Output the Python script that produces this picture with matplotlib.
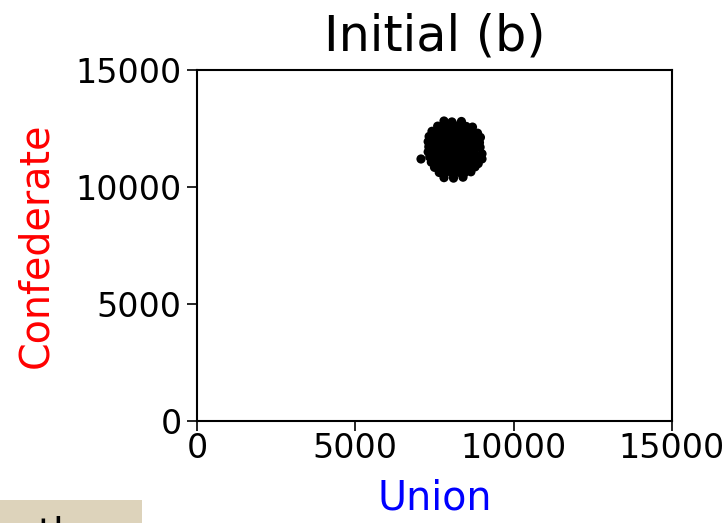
import matplotlib
matplotlib.use("Agg")
import matplotlib.pyplot as plt
from matplotlib.patches import Rectangle

#%% Dados (linha por linha da nuvem)

union = [7800, 8050, 8350,
         7600, 7780, 7960, 8140, 8320, 8500, 8700,
         7420, 7600, 7780, 7960, 8140, 8320, 8500, 8680, 8860,
         7330, 7500, 7680, 7860, 8040, 8220, 8400, 8580, 8760, 8950,
         7300, 7480, 7660, 7840, 8020, 8200, 8380, 8560, 8740, 8920,
         7320, 7500, 7680, 7860, 8040, 8220, 8400, 8580, 8760, 8940,
         7300, 7480, 7660, 7840, 8020, 8200, 8380, 8560, 8740, 9000,
         7074, 7350, 7530, 7710, 7890, 8070, 8250, 8430, 8610, 8790, 9000,
         7400, 7580, 7760, 7940, 8120, 8300, 8480, 8660, 8880,
         7500, 7680, 7860, 8040, 8220, 8400, 8580, 8780,
         7650, 7850, 8050, 8250, 8450, 8650,
         7800, 8100, 8400]
confederate = [12820, 12780, 12800,
               12600, 12640, 12580, 12620, 12650, 12590, 12560,
               12380, 12400, 12360, 12390, 12410, 12370, 12400, 12350, 12300,
               12160, 12180, 12140, 12170, 12150, 12190, 12130, 12160, 12180, 12120,
               11940, 11960, 11920, 11950, 11930, 11970, 11910, 11940, 11960, 11900,
               11720, 11740, 11700, 11730, 11710, 11750, 11690, 11720, 11740, 11700,
               11500, 11520, 11480, 11510, 11490, 11530, 11470, 11500, 11520, 11420,
               11197, 11280, 11300, 11260, 11290, 11270, 11310, 11250, 11280, 11300, 11200,
               11060, 11080, 11040, 11070, 11050, 11090, 11030, 11060, 11000,
               10840, 10860, 10820, 10850, 10830, 10870, 10810, 10860,
               10620, 10640, 10600, 10630, 10610, 10650,
               10400, 10380, 10420]

#%% Gráfico

fig = plt.figure(figsize=(7.27, 5.23), dpi=100)
ax = fig.add_axes([197/727, 1 - 421/523, 475/727, 351/523])

ax.scatter(union, confederate, s=44, color='black', edgecolors='none')

ax.set_xlim(0, 15000)
ax.set_ylim(0, 15000)
ax.set_xticks([0, 5000, 10000, 15000])
ax.set_yticks([0, 5000, 10000, 15000])
ax.tick_params(labelsize=24, length=7, width=1.2)
ax.tick_params(axis='x', pad=1)
ax.tick_params(axis='y', pad=4)
for s in ax.spines.values():
    s.set_linewidth(1.5)

ax.set_xlabel('Union', color='blue', fontsize=28.5, labelpad=10)
ax.set_ylabel('Confederate', color='red', fontsize=28.5, labelpad=14)
ax.set_title('Initial (b)', fontsize=35.5, pad=14)

# caixa bege cortada no canto inferior esquerdo
fig.patches.append(Rectangle((0, 0), 142/727, 23/523, transform=fig.transFigure,
                             facecolor='#ddd3bb', edgecolor='none', zorder=0))
fig.text(38/727, -0.044, 'th', fontsize=28, va='baseline', ha='left')

plt.savefig("out.png", dpi=100)
